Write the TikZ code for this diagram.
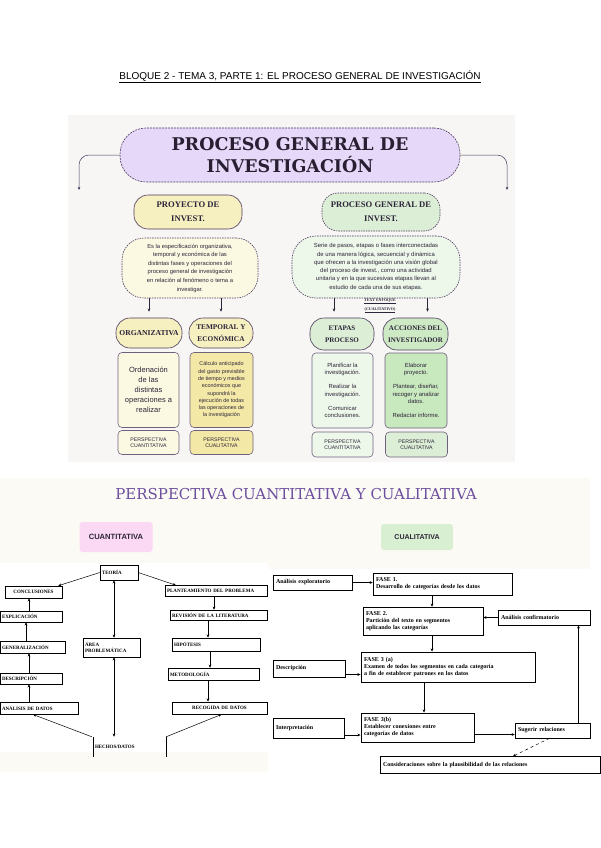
\documentclass[tikz,border=0pt]{standalone}
\usepackage{fontspec}
\setmainfont{Liberation Serif}
\newfontfamily\sansf{Liberation Sans}
\newfontfamily\slabf{DejaVu Serif}
\usetikzlibrary{arrows.meta}

\definecolor{panelbg}{HTML}{F8F6F5}
\definecolor{creambg}{HTML}{FCFAF4}
\definecolor{lila}{HTML}{E6D8F8}
\definecolor{lilaline}{HTML}{4A3A5E}
\definecolor{inkdark}{HTML}{2C2438}
\definecolor{ylwA}{HTML}{F6EFC0}
\definecolor{ylwB}{HTML}{FCF9E2}
\definecolor{ylwC}{HTML}{F3E8A6}
\definecolor{grnA}{HTML}{DCEFD6}
\definecolor{grnB}{HTML}{EEF8EA}
\definecolor{grnC}{HTML}{C8E8BE}
\definecolor{titlepurple}{HTML}{6C4E9E}
\definecolor{pinkbox}{HTML}{FBD8F4}
\definecolor{greenbox}{HTML}{D8EFD2}

\tikzset{
  pill/.style={draw=lilaline, line width=0.6pt, rounded corners=14pt, align=center, inner sep=1pt, text=inkdark},
  card/.style={draw=lilaline!80, line width=0.6pt, rounded corners=4pt, align=center, inner sep=1pt, text=inkdark},
  headf/.style={font=\bfseries\fontsize{8.6}{14}\selectfont},
  perspf/.style={font=\sansf\fontsize{5.2}{6.5}\selectfont},
  fbox/.style={draw, line width=0.5pt, inner xsep=2pt, inner ysep=1pt, align=left, font=\bfseries\fontsize{5}{5.8}\selectfont},
  qbox/.style={draw, line width=0.5pt, inner xsep=3pt, inner ysep=1pt, align=left, font=\bfseries\fontsize{6}{7}\selectfont},
  arr/.style={-{Stealth[length=3.2pt,width=2.8pt]}, line width=0.5pt},
  darr/.style={{Stealth[length=3.2pt,width=2.8pt]}-{Stealth[length=3.2pt,width=2.8pt]}, line width=0.6pt},
}

\begin{document}
\begin{tikzpicture}[x=1pt, y=-1pt]
\useasboundingbox (0,0) rectangle (600,848);
\fill[white] (0,0) rectangle (600,848);

% heading of the page
\node[font=\sansf\fontsize{10}{11}\selectfont] (head) at (300,77)
  {\underline{BLOQUE 2 - TEMA 3, PARTE 1: EL PROCESO GENERAL DE INVESTIGACIÓN}};

% ---- upper panel
\fill[panelbg] (68,115) rectangle (515,462);
\node[pill, fill=lila, dash pattern=on 2pt off 1pt, rounded corners=26pt, minimum width=340pt, minimum height=54pt,
  text=inkdark!90!black, font=\slabf\bfseries\fontsize{17.5}{22}\selectfont] (proc) at (290,155) {PROCESO GENERAL DE\\INVESTIGACIÓN};
\coordinate (procL) at (79,190);
\coordinate (procR) at (507,190);
\draw[arr, lilaline, rounded corners=10pt] (proc.west) -| (procL);
\draw[arr, lilaline, rounded corners=10pt] (proc.east) -| (procR);

% left branch
\node[pill, fill=ylwA, headf, minimum width=108pt, minimum height=34pt] (proy) at (188,212) {PROYECTO DE\\INVEST.};
\node[pill, fill=ylwB, dash pattern=on 1.5pt off 1pt, rounded corners=22pt, minimum width=136pt, minimum height=60pt,
  font=\sansf\fontsize{5.8}{8.6}\selectfont] (proyd) at (190,268)
  {Es la especificación organizativa,\\temporal y económica de las\\distintas fases y operaciones del\\proceso general de investigación\\en relación al fenómeno o tema a\\investigar.};
\node[pill, fill=ylwA, font=\bfseries\fontsize{7.6}{12}\selectfont, minimum width=66pt, minimum height=30pt] (organ) at (149,333) {ORGANIZATIVA};
\node[pill, fill=ylwA, font=\bfseries\fontsize{7.3}{12}\selectfont, minimum width=64pt, minimum height=30pt] (tempo) at (221,333) {TEMPORAL Y\\ECONÓMICA};
\draw[arr, inkdark, shorten >=6pt] (proyd.south -| organ.north) -- (organ.north);
\draw[arr, inkdark, shorten >=6pt] (proyd.south -| tempo.north) -- (tempo.north);
\node[card, fill=ylwB, minimum width=61pt, minimum height=75pt, font=\sansf\fontsize{7.5}{10}\selectfont] (orgbox) at (148.5,390)
  {Ordenación\\de las\\distintas\\operaciones a\\realizar};
\node[card, fill=ylwC, minimum width=63pt, minimum height=75pt, font=\sansf\fontsize{5.4}{7.3}\selectfont] (tempbox) at (221.5,390)
  {Cálculo anticipado\\del gasto previsible\\de tiempo y medios\\económicos que\\supondrá la\\ejecución de todas\\las operaciones de\\la investigación};
\node[card, fill=ylwB, perspf, minimum width=61pt, minimum height=24pt] (orgper) at (148.5,442.5) {PERSPECTIVA\\CUANTITATIVA};
\node[card, fill=ylwC, perspf, minimum width=63pt, minimum height=24pt] (tempper) at (221.5,442.5) {PERSPECTIVA\\CUALITATIVA};

% right branch
\node[pill, fill=grnA, headf, dash pattern=on 1.5pt off 1pt, rounded corners=16pt, minimum width=118pt, minimum height=38pt] (gen) at (381,212) {PROCESO GENERAL DE\\INVEST.};
\node[pill, fill=grnB, dash pattern=on 1.5pt off 1pt, rounded corners=24pt, minimum width=168pt, minimum height=62pt,
  font=\sansf\fontsize{5.9}{8.3}\selectfont] (gend) at (376,267)
  {Serie de pasos, etapas o fases interconectadas\\de una manera lógica, secuencial y dinámica\\que ofrecen a la investigación una visión global\\del proceso de invest., como una actividad\\unitaria y en la que sucesivas etapas llevan al\\estudio de cada una de sus etapas.};
\node[font=\bfseries\fontsize{4}{8.5}\selectfont, text=inkdark, align=center] (enfo) at (380,306) {\underline{TEXT ENFOQUE}\\\underline{(CUALITATIVO)}};
\node[pill, fill=grnA, font=\bfseries\fontsize{7}{11.5}\selectfont, minimum width=64pt, minimum height=32pt] (etapas) at (342,334) {ETAPAS\\PROCESO};
\node[pill, fill=grnC!70!grnA, font=\bfseries\fontsize{7}{11.5}\selectfont, minimum width=65pt, minimum height=32pt] (acc) at (415.5,334) {ACCIONES DEL\\INVESTIGADOR};
\draw[arr, inkdark, shorten >=6pt] ([xshift=-8pt]etapas.north |- gend.south) -- ([xshift=-8pt]etapas.north);
\draw[arr, inkdark, shorten >=6pt] ([xshift=12pt]acc.north |- gend.south) -- ([xshift=12pt]acc.north);
\node[card, fill=grnB, minimum width=61pt, minimum height=75pt, font=\sansf\fontsize{5.9}{7.5}\selectfont] (etbox) at (342.5,390.5)
  {Planificar la\\investigación.\\[6.5pt]Realizar la\\investigación.\\[6.5pt]Comunicar\\conclusiones.};
\node[card, fill=grnC, minimum width=62pt, minimum height=75pt, font=\sansf\fontsize{5.9}{7.5}\selectfont] (acbox) at (416,390.5)
  {Elaborar\\proyecto.\\[6.5pt]Plantear, diseñar,\\recoger y analizar\\datos.\\[6.5pt]Redactar informe.};
\node[card, fill=grnB, perspf, minimum width=61pt, minimum height=25pt] (etper) at (342.5,444.5) {PERSPECTIVA\\CUANTITATIVA};
\node[card, fill=grnA, perspf, minimum width=62pt, minimum height=25pt] (acper) at (416.5,444.5) {PERSPECTIVA\\CUALITATIVA};

% ---- lower panel
\fill[creambg] (0,478) rectangle (590,772);
\node[font=\slabf\fontsize{15}{17}\selectfont, text=titlepurple] (pers) at (296,494) {PERSPECTIVA CUANTITATIVA Y CUALITATIVA};
\node[fill=pinkbox, rounded corners=3pt, minimum width=73pt, minimum height=30pt, font=\sansf\bfseries\fontsize{7.6}{8}\selectfont, text=inkdark] (cuanti) at (116,537) {CUANTITATIVA};
\node[fill=greenbox, rounded corners=3pt, minimum width=72pt, minimum height=26pt, font=\sansf\bfseries\fontsize{7}{8}\selectfont, text=inkdark] (cuali) at (417,537) {CUALITATIVA};
\fill[white] (0,563) rectangle (268,752);
\fill[white] (268,569) rectangle (600,776);

% quantitative scheme
\node[fbox, text width=34pt, minimum height=15pt] (teoria) at (119,572.5) {TEORÍA};
\node[fbox, text width=53pt, minimum height=12pt, align=center] (concl) at (33.5,592) {CONCLUSIONES};
\node[fbox, text width=58pt, minimum height=11pt] (explic) at (31,616.5) {EXPLICACIÓN};
\node[fbox, text width=61pt, minimum height=12pt] (general) at (32.5,647) {GENERALIZACIÓN};
\node[fbox, text width=58pt, minimum height=11pt] (descri) at (31,678.5) {DESCRIPCIÓN};
\node[fbox, line width=0.9pt, text width=74pt, minimum height=12pt] (anali) at (39,708) {ANÁLISIS DE DATOS};
\node[fbox, text width=53pt, minimum height=19pt, font=\bfseries\fontsize{5}{5.4}\selectfont] (area) at (111.5,647.5) {ÁREA\\PROBLEMÁTICA};
\node[fbox, draw=none, text width=69pt, minimum height=20pt] (hechos) at (129.5,747) {HECHOS/DATOS};
\draw[line width=0.5pt] (hechos.north west) -- (hechos.south west);
\draw[line width=0.5pt] (hechos.north east) -- (hechos.south east);
\node[fbox, text width=98pt, minimum height=11pt] (plante) at (216,591) {PLANTEAMIENTO DEL PROBLEMA};
\node[fbox, text width=93pt, minimum height=10pt] (revis) at (218.5,615) {REVISIÓN DE LA LITERATURA};
\node[fbox, line width=0.8pt, text width=84pt, minimum height=13pt] (hipot) at (216,644.5) {HIPÓTESIS};
\node[fbox, text width=87pt, minimum height=12pt] (metod) at (213.5,674) {METODOLOGÍA};
\node[fbox, line width=0.8pt, text width=91pt, minimum height=12pt, align=center] (recog) at (219.5,708) {RECOGIDA DE DATOS};

\draw[arr] (teoria.west) -- ([xshift=-4pt]concl.north east);
\draw[arr] (teoria.east) -- ([xshift=-40pt]plante.north);
\draw[darr] (teoria.south -| area.north) ++(2.5,0) -- ([xshift=2.5pt]area.north);
\draw[darr] ([xshift=2.5pt]area.south) -- ([xshift=2.5pt]area.south |- hechos.north);
\draw[arr] ([xshift=-1pt]hechos.north west) -- ([xshift=-6pt]anali.south);
\draw[arr] (hechos.north east) -- ([xshift=2pt]recog.south);
\draw[arr] ([xshift=-10pt]anali.north) -- ([xshift=-10pt]anali.north |- descri.south);
\draw[arr, line width=0.8pt] ([xshift=-2pt]descri.north) -- ([xshift=-2pt]descri.north |- general.south);
\draw[arr] ([xshift=-6.5pt]general.north) -- ([xshift=-6.5pt]general.north |- explic.south);
\draw[arr, line width=0.8pt] ([xshift=-2pt]explic.north) -- ([xshift=-2pt]explic.north |- concl.south);
\draw[arr, line width=0.8pt] ([xshift=-2pt]plante.south) -- ([xshift=-2pt]plante.south |- revis.north);
\draw[arr] ([xshift=-10.5pt]revis.south) -- ([xshift=-10.5pt]revis.south |- hipot.north);
\draw[arr, line width=0.8pt] ([xshift=-6pt]hipot.south) -- ([xshift=-6pt]hipot.south |- metod.north);
\draw[arr] ([xshift=-5.5pt]metod.south) -- ([xshift=-11.5pt]recog.north);

% qualitative scheme
\node[qbox, text width=73pt, minimum height=15pt] (explor) at (312.5,582.5) {Análisis exploratorio};
\node[qbox, text width=133pt, minimum height=22pt] (fase1) at (442.5,584) {FASE 1.\\Desarrollo de categorías desde los datos};
\node[qbox, text width=114pt, minimum height=28pt] (fase2) at (423,621) {FASE 2.\\Partición del texto en segmentos\\aplicando las categorías};
\node[qbox, text width=86pt, minimum height=15pt] (confirm) at (544,617.5) {Análisis confirmatorio};
\node[qbox, line width=0.9pt, text width=168pt, minimum height=30pt] (fase3a) at (448,667) {FASE 3 (a)\\Examen de todos los segmentos en cada categoría\\a fin de establecer patrones en los datos};
\node[qbox, line width=0.8pt, text width=66pt, minimum height=17pt] (descr) at (309,668.5) {Descripción};
\node[qbox, line width=0.9pt, text width=107pt, minimum height=29pt] (fase3b) at (417.5,727.5) {FASE 3(b)\\Establecer conexiones entre\\categorías de datos};
\node[qbox, line width=0.8pt, text width=65pt, minimum height=20pt] (interp) at (308.5,728) {Interpretación};
\node[qbox, text width=69pt, minimum height=15pt] (suger) at (552.5,730.5) {Sugerir relaciones};
\node[qbox, text width=214pt, minimum height=17pt] (consid) at (490,765) {Consideraciones sobre la plausibilidad de las relaciones};

\draw[arr] (explor.east) -- (explor.east -| fase1.west);
\draw[arr, line width=0.8pt] ([xshift=9pt]fase2.north |- fase1.south) -- ([xshift=9pt]fase2.north);
\draw[arr] (confirm.west) -- (confirm.west -| fase2.east);
\draw[arr] ([xshift=9pt]fase2.south) -- ([xshift=9pt]fase2.south |- fase3a.north);
\draw[arr] ([yshift=-6pt]descr.east) -- ([yshift=-6pt]descr.east -| fase3a.west);
\draw[arr] ([xshift=-24pt]fase3a.south) -- ([xshift=-24pt]fase3a.south |- fase3b.north);
\draw[arr] ([yshift=-7pt]interp.east) -- ([yshift=-7pt]interp.east -| fase3b.west);
\draw[arr] ([yshift=-7pt]fase3b.east) -- ([yshift=-7pt]fase3b.east -| suger.west);
\draw[arr] ([xshift=26pt]suger.north) -- ([xshift=26pt]suger.north |- confirm.south);
\draw[arr, dashed] ([xshift=-3pt]suger.south) -- ([xshift=23pt]consid.north);
\end{tikzpicture}
\end{document}
